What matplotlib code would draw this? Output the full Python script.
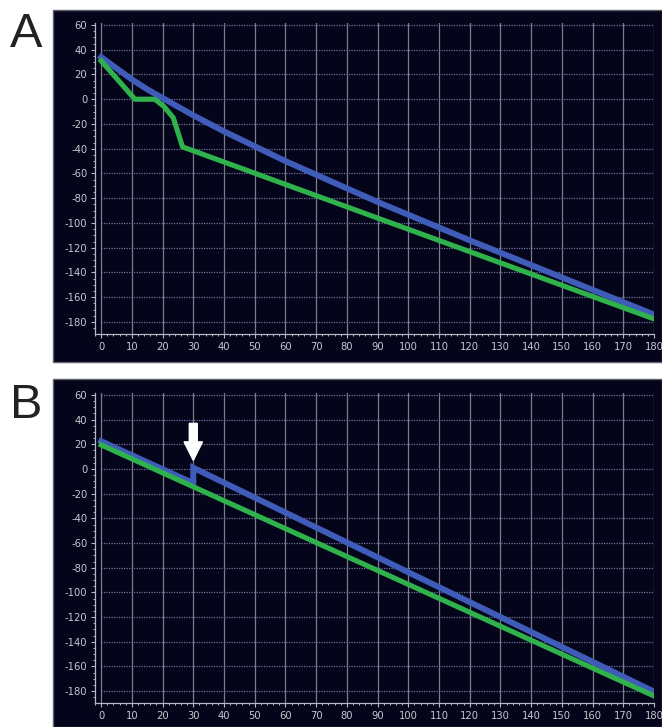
import matplotlib.pyplot as plt
from matplotlib.patches import Rectangle
from matplotlib.ticker import MultipleLocator

# Panel A
a_blue_x = [0, 5, 10, 15, 20, 25, 30, 40, 50, 60, 90, 120, 150, 180]
a_blue_y = [34, 25, 16, 8, 1, -6, -13, -26, -38, -50, -83, -114, -144, -174]
a_green_x = [0, 11, 17.5, 20.5, 23.5, 26.5, 180]
a_green_y = [31, 0, 0, -6, -15, -38.5, -177.5]

# Panel B
b_blue_x = [0, 30, 30, 180]
b_blue_y = [22.5, -11.5, 1, -180.5]
b_green_x = [0, 180]
b_green_y = [19.5, -184]

# arrow marking the step in panel B
arrow_x = 30
arrow_top = 37
arrow_tip = 7

x_ticks = list(range(0, 181, 10))
y_ticks = list(range(-180, 61, 20))

BG = '#04041a'
BLUE = '#3f5cb8'
GREEN = '#2fb24c'
TXT = '#c8c8d0'

fig = plt.figure(figsize=(6.62, 7.27), dpi=100)
W, H = 662, 727


def px_box(x0, y0, x1, y1):
    # pixel box (top-left origin) -> figure fraction [l, b, w, h]
    return [x0 / W, 1 - y1 / H, (x1 - x0) / W, (y1 - y0) / H]


def style_axes(ax):
    ax.set_facecolor(BG)
    ax.set_xlim(-2, 180)
    ax.set_ylim(-189.7, 61.6)
    for side in ['top', 'right']:
        ax.spines[side].set_visible(False)
    for side in ['left', 'bottom']:
        ax.spines[side].set_color('#b8b8c4')
        ax.spines[side].set_linewidth(0.9)
    ax.set_xticks(x_ticks)
    ax.set_xticklabels([str(v) for v in x_ticks])
    ax.set_yticks(y_ticks)
    ax.set_yticklabels([str(v) for v in y_ticks])
    ax.xaxis.set_minor_locator(MultipleLocator(2))
    ax.yaxis.set_minor_locator(MultipleLocator(5))
    ax.tick_params(which='major', colors='#b8b8c4', labelcolor=TXT,
                   labelsize=7.2, length=3, width=0.8, pad=2.5)
    ax.tick_params(which='minor', colors='#b8b8c4', length=1.6, width=0.7)
    # grid: solid verticals, dotted horizontals
    for xv in x_ticks:
        ax.axvline(xv, color='#7c7c8c', lw=0.9, zorder=1)
    for yv in y_ticks:
        ax.plot([0, 180], [yv, yv], color='#70709a', lw=0.9,
                ls=(0, (1, 1)), zorder=1)


# dark panel backgrounds
for box in [px_box(53, 10, 662, 362), px_box(53, 379, 662, 727)]:
    fig.patches.append(Rectangle((box[0], box[1]), box[2], box[3],
                                 transform=fig.transFigure, facecolor=BG,
                                 edgecolor='#60606c', linewidth=1.0,
                                 zorder=-5))

ax_a = fig.add_axes(px_box(95, 23, 654, 334))
style_axes(ax_a)
ax_a.plot(a_blue_x, a_blue_y, color=BLUE, lw=4.3, zorder=3,
          solid_joinstyle='round')
ax_a.plot(a_green_x, a_green_y, color=GREEN, lw=3.7, zorder=4,
          solid_joinstyle='round')

ax_b = fig.add_axes(px_box(95, 393, 654, 703))
style_axes(ax_b)
ax_b.plot(b_blue_x, b_blue_y, color=BLUE, lw=4.3, zorder=3,
          solid_joinstyle='miter')
ax_b.plot(b_green_x, b_green_y, color=GREEN, lw=3.7, zorder=4)
ax_b.arrow(arrow_x, arrow_top, 0, arrow_tip - arrow_top, width=2.6,
           head_width=6.0, head_length=15, length_includes_head=True,
           color='white', zorder=6)

# panel letters
fig.text(10 / W, 1 - 47 / H, 'A', fontsize=35, family='Liberation Sans',
         color='#222222', va='baseline', ha='left')
fig.text(10 / W, 1 - 418 / H, 'B', fontsize=35, family='Liberation Sans',
         color='#222222', va='baseline', ha='left')

fig.savefig('out.png', dpi=100)
